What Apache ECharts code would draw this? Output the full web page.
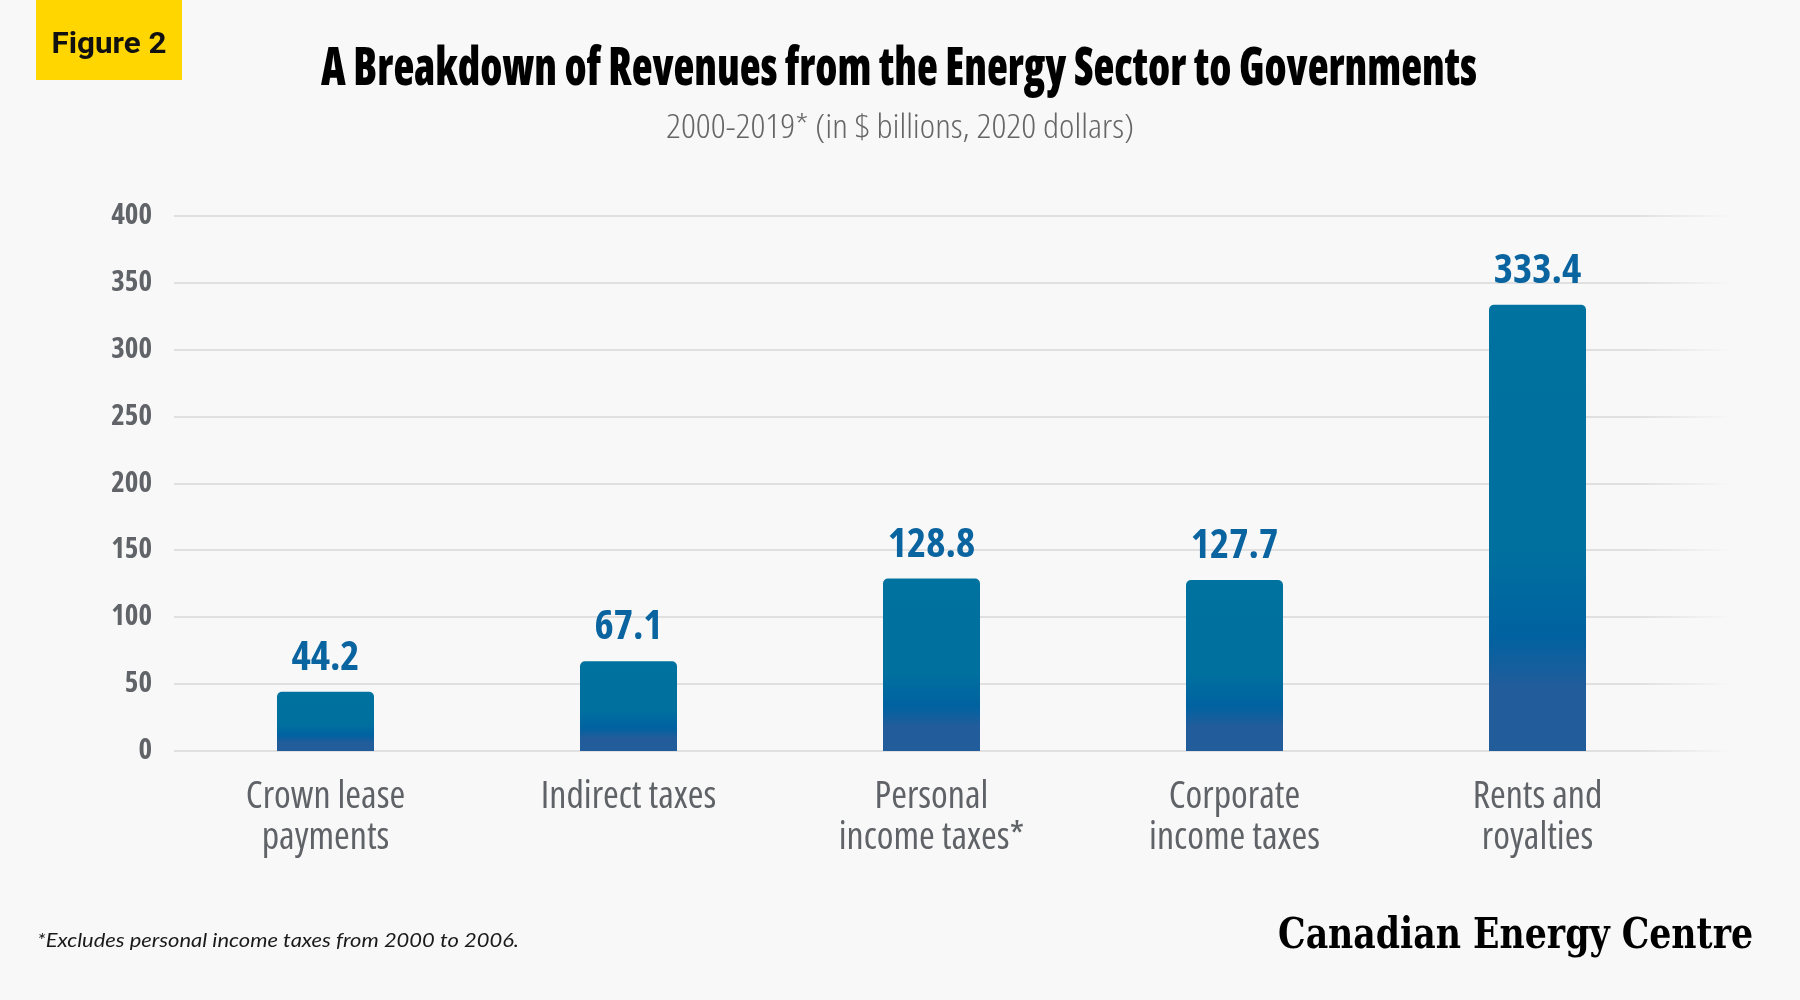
<!DOCTYPE html>
<html>
<head>
<meta charset="utf-8">
<script src="https://cdn.jsdelivr.net/npm/echarts@6/dist/echarts.min.js"></script>
<style>
  html, body { margin: 0; padding: 0; background: #f8f8f8; }
  #chart { width: 1800px; height: 1000px; }
</style>
</head>
<body>
<div id="chart"></div>
<script>
// ---- data ----
const categories = ['Crown lease\npayments', 'Indirect taxes', 'Personal\nincome taxes*', 'Corporate\nincome taxes', 'Rents and\nroyalties'];
const revenues = [44.2, 67.1, 128.8, 127.7, 333.4];
const yMin = 0;
const yMax = 400;
const yInterval = 50;

const titleText = 'A Breakdown of Revenues from the Energy Sector to Governments';
const subtitleText = '2000-2019* (in $ billions, 2020 dollars)';
const figureText = 'Figure 2';
const footnoteText = '*Excludes personal income taxes from 2000 to 2006.';
const logoText = 'Canadian Energy Centre';

// ---- helpers ----
const COND = "'Open Sans', 'Roboto Condensed', Roboto, sans-serif";
const measureCtx = document.createElement('canvas').getContext('2d');
function fitScale(text, font, targetWidth) {
  measureCtx.font = font;
  const w = measureCtx.measureText(text).width;
  return w > 0 ? targetWidth / w : 1;
}
function textEl(text, font, x, y, align, fill, targetWidth) {
  return {
    type: 'text',
    x: x, y: y,
    scaleX: fitScale(text, font, targetWidth),
    style: { text: text, font: font, fill: fill, textAlign: align, textVerticalAlign: 'middle' },
    silent: true
  };
}

const chart = echarts.init(document.getElementById('chart'), null, { renderer: 'canvas' });

const titleFont = "condensed 800 53px 'Open Sans', Roboto, sans-serif";
const subFont = "condensed 300 33px 'Open Sans', Roboto, sans-serif";
const figFont = "bold 29px Roboto, 'Noto Sans', sans-serif";
const footFont = "italic 20px Lato, 'Open Sans', sans-serif";
const logoFont = "condensed bold 43px 'DejaVu Serif', 'Liberation Serif', serif";

const option = {
  backgroundColor: '#f8f8f8',
  animation: false,
  grid: [
    { left: 174, right: 111, top: 215.5, bottom: 249 },
    { left: 174, right: 70, top: 215.5, bottom: 249 }
  ],
  xAxis: [
    {
      gridIndex: 0,
      type: 'category',
      data: categories,
      axisLine: { show: false },
      axisTick: { show: false },
      axisLabel: {
        interval: 0,
        margin: 26,
        fontSize: 38,
        lineHeight: 41,
        fontStyle: 'condensed',
        fontWeight: 500,
        color: '#5f6266',
        fontFamily: COND
      }
    },
    { gridIndex: 1, type: 'value', show: false, min: 0, max: 1 }
  ],
  yAxis: [
    {
      gridIndex: 0,
      type: 'value',
      min: yMin, max: yMax, interval: yInterval,
      axisLine: { show: false },
      axisTick: { show: false },
      splitLine: { show: false },
      axisLabel: {
        margin: 22,
        fontSize: 29,
        fontStyle: 'condensed',
        fontWeight: 'bold',
        color: '#606367',
        fontFamily: COND
      }
    },
    {
      gridIndex: 1,
      type: 'value',
      min: yMin, max: yMax, interval: yInterval,
      axisLine: { show: false },
      axisTick: { show: false },
      axisLabel: { show: false },
      splitLine: {
        show: true,
        lineStyle: {
          width: 2,
          color: new echarts.graphic.LinearGradient(0, 0, 1, 0, [
            { offset: 0, color: '#e0e0e0' },
            { offset: 0.94, color: '#e0e0e0' },
            { offset: 1, color: 'rgba(224,224,224,0)' }
          ])
        }
      }
    }
  ],
  series: [
    {
      type: 'bar',
      xAxisIndex: 0,
      yAxisIndex: 0,
      data: revenues,
      barWidth: 97,
      itemStyle: {
        borderRadius: [5, 5, 0, 0],
        color: new echarts.graphic.LinearGradient(0, 0, 0, 1, [
          { offset: 0, color: '#00729f' },
          { offset: 0.55, color: '#00709f' },
          { offset: 0.74, color: '#0062a0' },
          { offset: 0.86, color: '#235c9b' },
          { offset: 1, color: '#235c9b' }
        ])
      },
      label: {
        show: true,
        position: 'top',
        distance: 13,
        fontSize: 41,
        fontStyle: 'condensed',
        fontWeight: 'bold',
        color: '#0a64a0',
        fontFamily: COND,
        formatter: (p) => p.value.toFixed(1)
      }
    }
  ],
  graphic: [
    { type: 'rect', shape: { x: 36, y: 0, width: 146, height: 80 }, style: { fill: '#FFD600' }, silent: true },
    textEl(figureText, figFont, 109, 46, 'center', '#111111', 115),
    textEl(titleText, titleFont, 899, 70, 'center', '#000000', 1156),
    textEl(subtitleText, subFont, 900, 129, 'center', '#666666', 468),
    textEl(footnoteText, footFont, 37, 941, 'left', '#1a1a1a', 482),
    textEl(logoText, logoFont, 1753, 937, 'right', '#000000', 475)
  ]
};

chart.setOption(option);
</script>
</body>
</html>
